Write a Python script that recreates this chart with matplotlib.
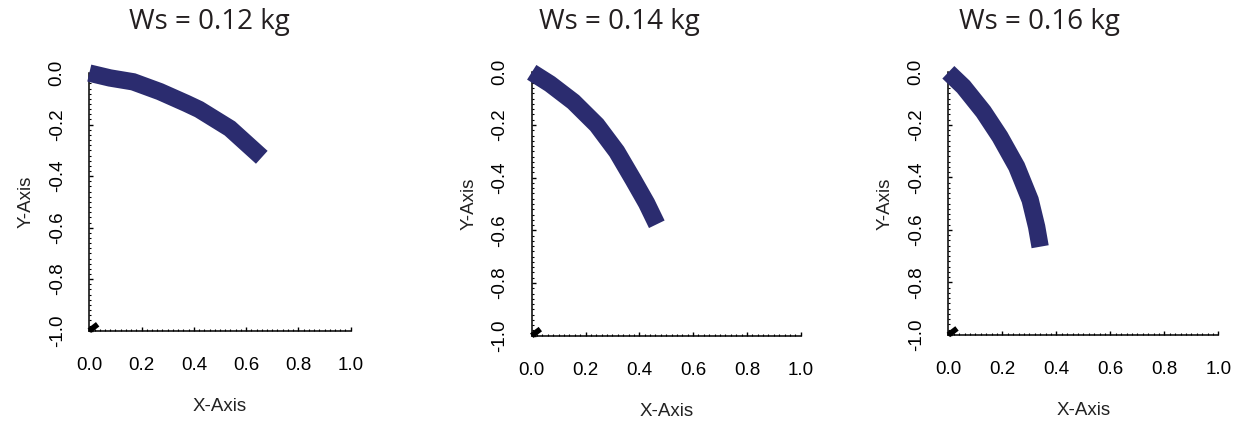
import matplotlib
matplotlib.use("Agg")
import matplotlib.pyplot as plt
from matplotlib.ticker import MultipleLocator

# deflected shape of the beam for each hanging weight
titles = ["Ws = 0.12 kg", "Ws = 0.14 kg", "Ws = 0.16 kg"]

x_012 = [0.0, 0.079, 0.168, 0.27, 0.372, 0.42, 0.538, 0.66]
y_012 = [0.0, -0.019, -0.034, -0.072, -0.118, -0.141, -0.215, -0.327]

x_014 = [0.0, 0.068, 0.155, 0.242, 0.316, 0.378, 0.427, 0.465]
y_014 = [0.0, -0.044, -0.112, -0.2, -0.301, -0.409, -0.497, -0.577]

x_016 = [0.0, 0.056, 0.13, 0.191, 0.253, 0.303, 0.327, 0.34]
y_016 = [0.0, -0.055, -0.15, -0.245, -0.359, -0.486, -0.588, -0.664]

# small pivot mark at the bottom-left corner
pivot_x = [0.0, 0.032]
pivot_y = [-1.0, -0.975]

ticks = [0.0, 0.2, 0.4, 0.6, 0.8, 1.0]
yticks = [-1.0, -0.8, -0.6, -0.4, -0.2, 0.0]

curves = [(x_012, y_012), (x_014, y_014), (x_016, y_016)]

# axes rectangles [left, bottom, width, height] and title x-centres (figure fraction)
boxes = [
    [0.0716, 0.2273, 0.2096, 0.6020],
    [0.4264, 0.2157, 0.2157, 0.6154],
    [0.7605, 0.2173, 0.2165, 0.6138],
]
title_x = [209 / 1247, 619 / 1247, 1039 / 1247]

LINE = "#2b2c6f"
TICK_FONT = {"family": "Liberation Sans", "size": 13.5}

fig = plt.figure(figsize=(12.47, 4.28), dpi=100)

for (xs, ys), box, title, tx in zip(curves, boxes, titles, title_x):
    ax = fig.add_axes(box)
    ax.plot(xs, ys, color=LINE, lw=12.5, solid_capstyle="butt",
            solid_joinstyle="miter", clip_on=False, zorder=3)
    ax.plot(pivot_x, pivot_y, color="black", lw=4, solid_capstyle="butt",
            clip_on=False, zorder=4)

    for side in ("top", "right"):
        ax.spines[side].set_visible(False)
    for side in ("left", "bottom"):
        ax.spines[side].set_linewidth(1.1)

    ax.xaxis.set_minor_locator(MultipleLocator(0.02))
    ax.yaxis.set_minor_locator(MultipleLocator(0.02))
    ax.set_xticks(ticks)
    ax.set_xticklabels([f"{v:.1f}" for v in ticks], **TICK_FONT)
    # plain hyphen for the negative labels
    ax.set_yticks(yticks)
    ax.set_yticklabels([f"{v:.1f}" for v in yticks], rotation=90,
                       va="center", **TICK_FONT)
    ax.set_xlim(0, 1)
    ax.set_ylim(-1, 0)

    ax.tick_params(which="major", direction="in", length=3, width=1)
    ax.tick_params(which="minor", direction="in", length=1.5, width=0.8)
    ax.tick_params(axis="x", which="major", pad=19)
    ax.tick_params(axis="y", which="major", pad=17)

    ax.set_xlabel("X-Axis", fontdict=TICK_FONT, labelpad=17, color="#222222")
    ax.set_ylabel("Y-Axis", fontdict=TICK_FONT, labelpad=10, color="#222222")

    fig.text(tx, 1 - 29 / 428, title, ha="center", va="baseline",
             family="Open Sans", size=20, color="#231f20")

fig.savefig("out.png", dpi=100)
